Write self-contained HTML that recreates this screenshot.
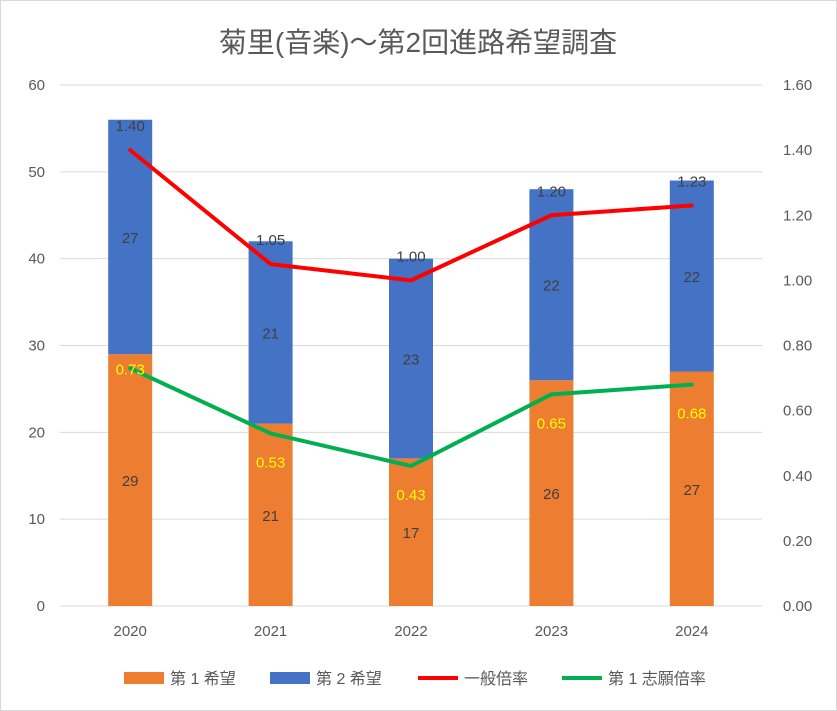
<!DOCTYPE html>
<html><head><meta charset="utf-8">
<style>
html,body{margin:0;padding:0;background:#fff;}
svg{display:block;font-family:"Liberation Sans","Noto Sans CJK JP",sans-serif;}
</style></head>
<body>
<svg id="chart" width="837" height="711">
<rect x="0.5" y="0.5" width="836" height="710" fill="#fff" stroke="#d9d9d9"/>
<text x="418" y="52" text-anchor="middle" font-size="28" fill="#595959">菊里(音楽)～第2回進路希望調査</text>
<g id="grid"></g><g id="bars"></g><g id="lines"></g><g id="labels"></g>
<g>
<rect x="124" y="672" width="40" height="12" fill="#ed7d31"/>
<text x="170" y="684" font-size="16" fill="#595959">第 1 希望</text>
<rect x="270" y="672" width="40" height="12" fill="#4472c4"/>
<text x="316" y="684" font-size="16" fill="#595959">第 2 希望</text>
<line x1="418" y1="678" x2="458" y2="678" stroke="#ff0000" stroke-width="4"/>
<text x="464" y="684" font-size="16" fill="#595959">一般倍率</text>
<line x1="562" y1="678" x2="602" y2="678" stroke="#00b050" stroke-width="4"/>
<text x="608" y="684" font-size="16" fill="#595959">第 1 志願倍率</text>
</g>
</svg>
<script>
const categories = ["2020","2021","2022","2023","2024"];
const first = [29,21,17,26,27];
const second = [27,21,23,22,22];
const general = [1.40,1.05,1.00,1.20,1.23];
const firstRate = [0.73,0.53,0.43,0.65,0.68];
const leftTicks = [0,10,20,30,40,50,60];
const rightTicks = ["0.00","0.20","0.40","0.60","0.80","1.00","1.20","1.40","1.60"];
const greenLabelOffset = [0,28,28,28,28];

const NS="http://www.w3.org/2000/svg";
const x0=60, x1=762, yBottom=606, yTop=85;
const yL=v=>yBottom-(v/60)*(yBottom-yTop);
const yR=v=>yBottom-(v/1.6)*(yBottom-yTop);
const step=(x1-x0)/categories.length;
const xC=i=>x0+step*(i+0.5);
function el(tag,attrs,parent){const e=document.createElementNS(NS,tag);for(const k in attrs)e.setAttribute(k,attrs[k]);parent.appendChild(e);return e;}
const grid=document.getElementById('grid'),bars=document.getElementById('bars'),lines=document.getElementById('lines'),labels=document.getElementById('labels');

leftTicks.forEach(t=>{
  const l=el('line',{x1:x0,x2:x1,y1:yL(t),y2:yL(t),stroke:'#d9d9d9','stroke-width':1},grid);
  
  
  const tx=el('text',{x:45,y:yL(t)+5,'text-anchor':'end','font-size':15,fill:'#595959'},grid);
  tx.textContent=t;
  
  
});
rightTicks.forEach(t=>{
  const tx=el('text',{x:783,y:yR(parseFloat(t))+5,'font-size':15,fill:'#595959'},grid);
  tx.textContent=t;
  
  
});
categories.forEach((c,i)=>{
  const tx=el('text',{x:xC(i),y:636,'text-anchor':'middle','font-size':15,fill:'#595959'},grid);
  tx.textContent=c;
  
  
});
const bw=44;
categories.forEach((c,i)=>{
  const a=el('rect',{x:xC(i)-bw/2,y:yL(first[i]),width:bw,height:yBottom-yL(first[i]),fill:'#ed7d31'},bars);
  
  
  const b=el('rect',{x:xC(i)-bw/2,y:yL(first[i]+second[i]),width:bw,height:yL(first[i])-yL(first[i]+second[i]),fill:'#4472c4'},bars);
  
  
  const t1=el('text',{x:xC(i),y:(yL(first[i])+yBottom)/2+6,'text-anchor':'middle','font-size':15,fill:'#404040'},labels);
  t1.textContent=first[i];
  
  
  const t2=el('text',{x:xC(i),y:(yL(first[i])+yL(first[i]+second[i]))/2+6,'text-anchor':'middle','font-size':15,fill:'#404040'},labels);
  t2.textContent=second[i];
  
  
});
el('line',{x1:x0,x2:x1,y1:yBottom,y2:yBottom,stroke:'#d9d9d9'},grid);
const pr=el('polyline',{points:general.map((v,i)=>xC(i)+','+yR(v)).join(' '),fill:'none',stroke:'#ff0000','stroke-width':4,'stroke-linejoin':'round','stroke-linecap':'round'},lines);


const pg=el('polyline',{points:firstRate.map((v,i)=>xC(i)+','+yR(v)).join(' '),fill:'none',stroke:'#00b050','stroke-width':4,'stroke-linejoin':'round','stroke-linecap':'round'},lines);


general.forEach((v,i)=>{
  const t=el('text',{x:xC(i),y:yR(v)-19,'text-anchor':'middle','font-size':15,fill:'#404040'},labels);
  t.textContent=v.toFixed(2);
  
  
});
firstRate.forEach((v,i)=>{
  const t=el('text',{x:xC(i),y:yR(v)+greenLabelOffset[i]+6,'text-anchor':'middle','font-size':15,fill:'#ffff00'},labels);
  t.textContent=v.toFixed(2);
  
  
});
</script>
</body></html>
